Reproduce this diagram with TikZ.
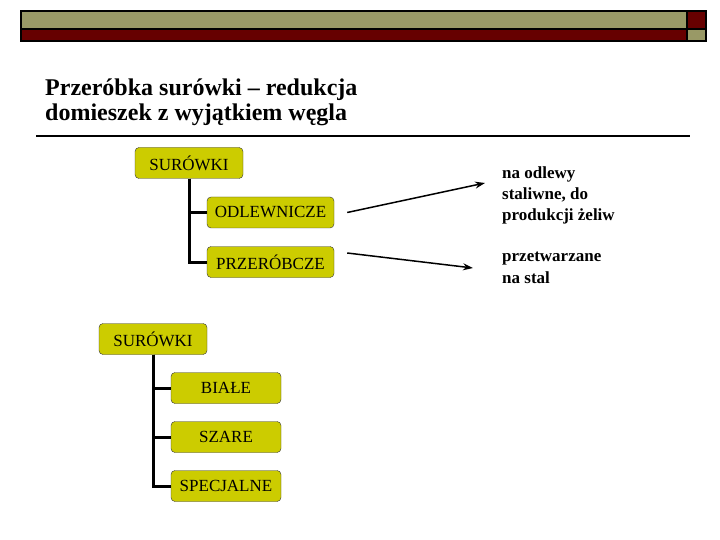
\documentclass[tikz,border=0pt]{standalone}
\usepackage{fontspec}
\setmainfont{Liberation Serif}
\usetikzlibrary{arrows.meta, positioning, calc}

\definecolor{barolive}{RGB}{153,153,102}
\definecolor{barred}{RGB}{102,0,0}
\definecolor{boxfill}{RGB}{204,204,0}

\begin{document}
\begin{tikzpicture}[
    x=1pt, y=-1pt,
    >=Stealth,
    box/.style={draw=black!80, fill=boxfill, rounded corners=4pt, inner sep=0pt,
                minimum height=31pt, font=\fontsize{17}{19}\selectfont},
    tree/.style={line width=3pt},
    arr/.style={->, line width=1.5pt, >={Stealth[length=10pt, width=7pt]}},
    note/.style={align=left, inner sep=0pt, anchor=base west,
                 font=\fontsize{17}{21.5}\selectfont\bfseries},
]
\useasboundingbox (0,0) rectangle (720,540);

% --- Header bar ---
\fill[barolive] (22,12) rectangle (687,29);
\fill[barred] (22,29) rectangle (687,41);
\fill[barred] (687,12) rectangle (706,29);
\fill[barolive] (687,29) rectangle (706,41);
\draw[line width=2pt] (21,11) rectangle (706,41);
\draw[line width=2pt] (687,11) -- (687,41);
\draw[line width=1.5pt] (21,29) -- (706,29);

% --- Title (base = last line) ---
\node[anchor=base west, inner sep=0pt, align=left,
      font=\fontsize{24}{25.5}\selectfont\bfseries] (title) at (45,121)
    {Przeróbka surówki – redukcja\\domieszek z wyjątkiem węgla};
\draw[line width=2pt] (36,136) -- (690,136);

% --- Tree 1 ---
\node[box, minimum width=108pt] (sur1) at (189,163) {SURÓWKI};
\node[box, minimum width=127pt] (odl) at (270.5,212.5) {ODLEWNICZE};
\node[box, minimum width=127pt] (prz) at (270.5,262) {PRZERÓBCZE};

\draw[tree] (sur1.south) |- (odl.west);
\draw[tree] (sur1.south) |- (prz.west);

% --- Outcomes ---
\node[note] (odlnote) at (502,221) {na odlewy\\staliwne, do\\produkcji żeliw};
\node[note] (prznote) at (502,283) {przetwarzane\\na stal};

\draw[arr] ([xshift=13pt]odl.east) -- ([xshift=-17pt, yshift=38pt]odlnote.base west);
\draw[arr] ([xshift=13pt, yshift=9pt]prz.east) -- ([xshift=-29pt, yshift=15pt]prznote.base west);

% --- Tree 2 ---
\node[box, minimum width=108pt] (sur2) at (153,339) {SURÓWKI};
\node[box, minimum width=110pt] (bia) at (226,388) {BIAŁE};
\node[box, minimum width=110pt] (sza) at (226,437) {SZARE};
\node[box, minimum width=110pt] (spe) at (226,486) {SPECJALNE};

\draw[tree] (sur2.south) |- (bia.west);
\draw[tree] (sur2.south) |- (sza.west);
\draw[tree] (sur2.south) |- (spe.west);

\end{tikzpicture}
\end{document}
